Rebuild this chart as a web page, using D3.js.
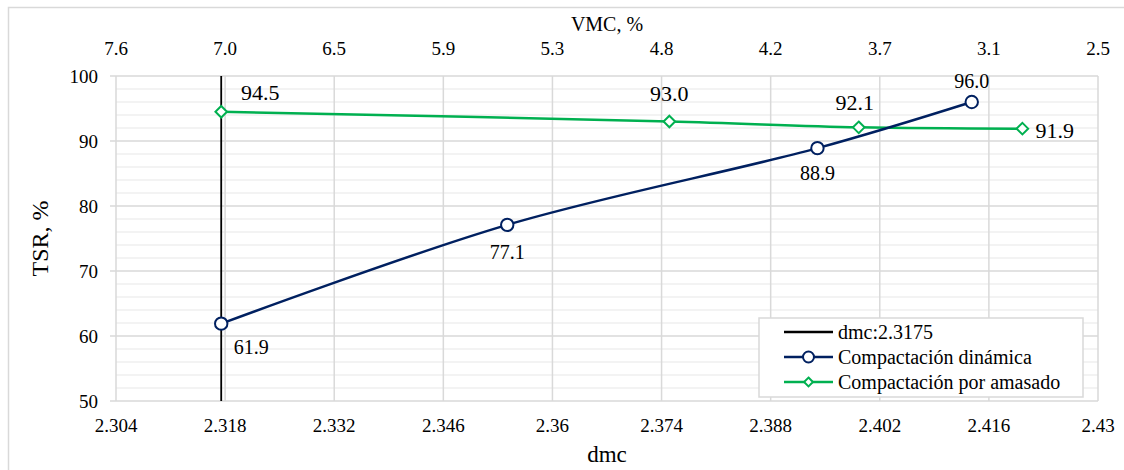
<!DOCTYPE html>
<html>
<head>
<meta charset="utf-8">
<script src="https://cdn.jsdelivr.net/npm/d3@7"></script>
<style>
  body { margin: 0; background: #fff; }
  svg text { font-family: "Liberation Serif", "DejaVu Serif", serif; }
</style>
</head>
<body>
<div id="chart"></div>
<script>
// Data
var dmcTicks = [2.304, 2.318, 2.332, 2.346, 2.36, 2.374, 2.388, 2.402, 2.416, 2.43];
var vmcTickLabels = ["7.6", "7.0", "6.5", "5.9", "5.3", "4.8", "4.2", "3.7", "3.1", "2.5"];
var tsrTicks = [50, 60, 70, 80, 90, 100];
var dmcLimit = 2.3175;

var dinamicaDmc = [2.3175, 2.3542, 2.3940, 2.4138];
var dinamicaTsr = [61.9, 77.1, 88.9, 96.0];

var amasadoDmc = [2.3175, 2.3750, 2.3993, 2.4203];
var amasadoTsr = [94.5, 93.0, 92.1, 91.9];

const width = 1124, height = 470;
const margin = { top: 76, right: 26, bottom: 69, left: 116 };
const blue = "#002060", green = "#00b050", grid = "#d9d9d9", minorGrid = "#efefef";
const serif = "'Liberation Serif', 'DejaVu Serif', serif";

const svg = d3.select("#chart").append("svg")
  .attr("width", width)
  .attr("height", height)
  .attr("font-family", serif);

// outer chart border
svg.append("rect")
  .attr("x", 8.5).attr("y", 7.5)
  .attr("width", 1140).attr("height", 500)
  .attr("fill", "none").attr("stroke", grid).attr("stroke-width", 1.5);

const x = d3.scaleLinear().domain([2.304, 2.43]).range([margin.left, width - margin.right]);
const y = d3.scaleLinear().domain([50, 100]).range([height - margin.bottom, margin.top]);

// minor horizontal grid (every 2)
svg.append("g").selectAll("line")
  .data(d3.range(52, 100, 2).filter(v => v % 10 !== 0))
  .enter().append("line")
  .attr("x1", x.range()[0]).attr("x2", x.range()[1])
  .attr("y1", d => y(d)).attr("y2", d => y(d))
  .attr("stroke", minorGrid).attr("stroke-width", 1.5);

// major horizontal grid
svg.append("g").selectAll("line")
  .data(tsrTicks)
  .enter().append("line")
  .attr("x1", x.range()[0] - 6).attr("x2", x.range()[1])
  .attr("y1", d => y(d)).attr("y2", d => y(d))
  .attr("stroke", grid).attr("stroke-width", 1.5);

// vertical grid
svg.append("g").selectAll("line")
  .data(dmcTicks)
  .enter().append("line")
  .attr("x1", d => x(d)).attr("x2", d => x(d))
  .attr("y1", y.range()[1]).attr("y2", y.range()[0])
  .attr("stroke", grid).attr("stroke-width", 1.5);

// bottom axis labels
svg.append("g").selectAll("text")
  .data(dmcTicks)
  .enter().append("text")
  .attr("x", d => x(d)).attr("y", 432)
  .attr("text-anchor", "middle")
  .attr("font-family", serif)
  .attr("font-size", 19)
  .text(d => d3.format("")(d));

// top axis labels (VMC)
svg.append("g").selectAll("text")
  .data(vmcTickLabels)
  .enter().append("text")
  .attr("x", (d, i) => x(dmcTicks[i])).attr("y", 55)
  .attr("text-anchor", "middle")
  .attr("font-family", serif)
  .attr("font-size", 19)
  .text(d => d);

// left axis labels
svg.append("g").selectAll("text")
  .data(tsrTicks)
  .enter().append("text")
  .attr("x", 98).attr("y", d => y(d) + 6.5)
  .attr("text-anchor", "end")
  .attr("font-family", serif)
  .attr("font-size", 19)
  .text(d => d);

// axis titles
svg.append("text")
  .attr("x", (x.range()[0] + x.range()[1]) / 2).attr("y", 462)
  .attr("text-anchor", "middle").attr("font-size", 23)
  .attr("font-family", serif)
  .text("dmc");
svg.append("text")
  .attr("x", (x.range()[0] + x.range()[1]) / 2).attr("y", 31)
  .attr("text-anchor", "middle").attr("font-size", 20)
  .attr("font-family", serif)
  .text("VMC, %");
svg.append("text")
  .attr("transform", `translate(48, ${(y.range()[0] + y.range()[1]) / 2}) rotate(-90)`)
  .attr("text-anchor", "middle").attr("font-size", 24)
  .attr("font-family", serif)
  .text("TSR, %");

// dmc limit line
svg.append("line")
  .attr("x1", x(dmcLimit)).attr("x2", x(dmcLimit))
  .attr("y1", y(100)).attr("y2", y(50))
  .attr("stroke", "#000").attr("stroke-width", 1.8);

const line = d3.line()
  .x(d => x(d[0])).y(d => y(d[1]))
  .curve(d3.curveCatmullRom.alpha(0.5));

const dinamica = dinamicaDmc.map((d, i) => [d, dinamicaTsr[i]]);
const amasado = amasadoDmc.map((d, i) => [d, amasadoTsr[i]]);

svg.append("path")
  .datum(amasado)
  .attr("d", line)
  .attr("fill", "none").attr("stroke", green).attr("stroke-width", 2.5);

svg.append("path")
  .datum(dinamica)
  .attr("d", line)
  .attr("fill", "none").attr("stroke", blue).attr("stroke-width", 2.5);

const diamond = d3.symbol().type(d3.symbolDiamond2).size(85);

svg.append("g").selectAll("path")
  .data(amasado)
  .enter().append("path")
  .attr("d", diamond)
  .attr("transform", d => `translate(${x(d[0])},${y(d[1])})`)
  .attr("fill", "#fff").attr("stroke", green).attr("stroke-width", 2);

svg.append("g").selectAll("circle")
  .data(dinamica)
  .enter().append("circle")
  .attr("cx", d => x(d[0])).attr("cy", d => y(d[1]))
  .attr("r", 6.2)
  .attr("fill", "#fff").attr("stroke", blue).attr("stroke-width", 2);

// data labels (offsets relative to marker)
const dinamicaOffsets = [[30, 30], [0, 34], [0, 32], [0, -14]];
const amasadoOffsets = [[39, -12], [0, -21], [-4, -17], [13, 9]];

svg.append("g").selectAll("text")
  .data(dinamica)
  .enter().append("text")
  .attr("x", (d, i) => x(d[0]) + dinamicaOffsets[i][0])
  .attr("y", (d, i) => y(d[1]) + dinamicaOffsets[i][1])
  .attr("text-anchor", "middle")
  .attr("font-family", serif)
  .attr("font-size", 20)
  .text(d => d3.format(".1f")(d[1]));

svg.append("g").selectAll("text")
  .data(amasado)
  .enter().append("text")
  .attr("x", (d, i) => x(d[0]) + amasadoOffsets[i][0])
  .attr("y", (d, i) => y(d[1]) + amasadoOffsets[i][1])
  .attr("text-anchor", (d, i) => i === 3 ? "start" : "middle")
  .attr("font-family", serif)
  .attr("font-size", 22)
  .text(d => d3.format(".1f")(d[1]));

// legend
const legend = svg.append("g").attr("transform", "translate(759,318)");
legend.append("rect")
  .attr("width", 324).attr("height", 79)
  .attr("fill", "#fff").attr("stroke", grid).attr("stroke-width", 1.5);

const legendItems = [
  { name: "dmc:2.3175", color: "#000", marker: null },
  { name: "Compactación dinámica", color: blue, marker: "circle" },
  { name: "Compactación por amasado", color: green, marker: "diamond" }
];

legendItems.forEach((item, i) => {
  const cy = 14 + i * 25;
  legend.append("line")
    .attr("x1", 25).attr("x2", 74)
    .attr("y1", cy).attr("y2", cy)
    .attr("stroke", item.color).attr("stroke-width", 2.5);
  if (item.marker === "circle") {
    legend.append("circle")
      .attr("cx", 49.5).attr("cy", cy).attr("r", 5.5)
      .attr("fill", "#fff").attr("stroke", item.color).attr("stroke-width", 2);
  } else if (item.marker === "diamond") {
    legend.append("path")
      .attr("d", d3.symbol().type(d3.symbolDiamond2).size(50))
      .attr("transform", `translate(49.5,${cy})`)
      .attr("fill", "#fff").attr("stroke", item.color).attr("stroke-width", 2);
  }
  legend.append("text")
    .attr("x", 79).attr("y", cy + 7)
    .attr("font-family", serif)
    .attr("font-size", 20)
    .text(item.name);
});
</script>
</body>
</html>
